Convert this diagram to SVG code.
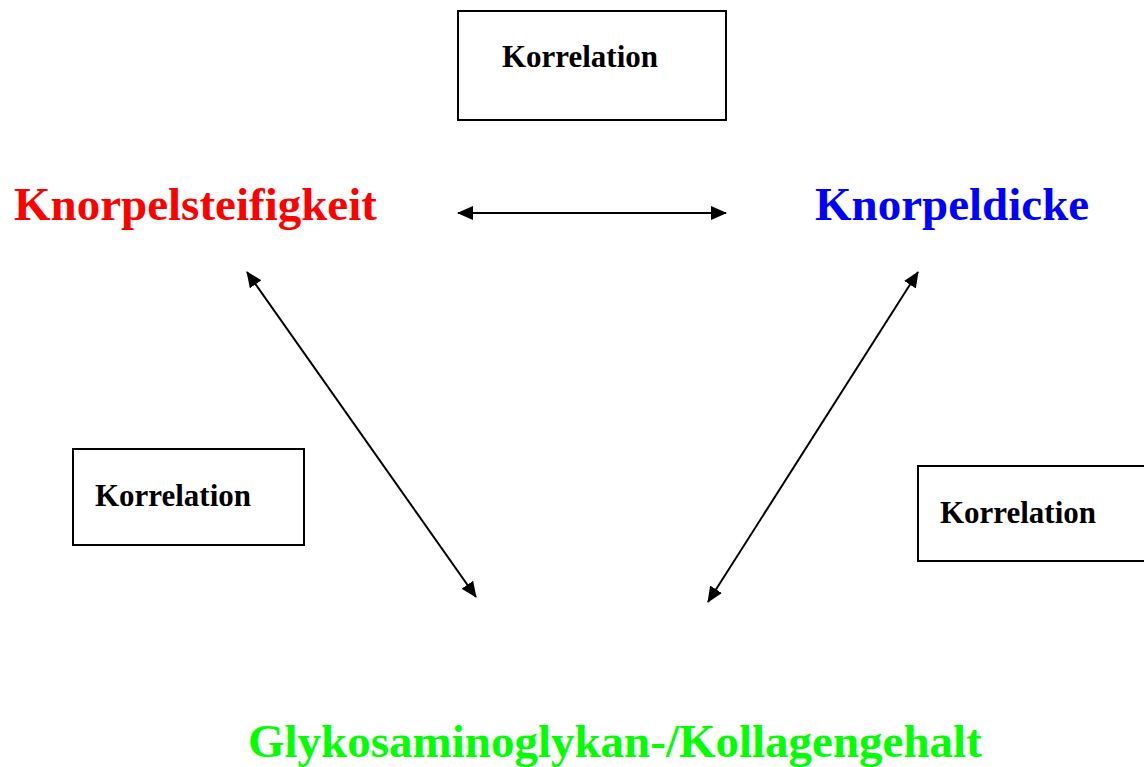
<svg xmlns="http://www.w3.org/2000/svg" width="1144" height="767" viewBox="0 0 1144 767">
<style>
.box{fill:#fff;stroke:#000;stroke-width:2}
.lbl{font-family:"Liberation Serif",serif;font-weight:bold;font-size:31px;fill:#000}
.big{font-family:"Liberation Serif",serif;font-weight:bold;font-size:47px}
.con{stroke:#000;stroke-width:2;fill:none;marker-start:url(#ah);marker-end:url(#ah)}
</style>
<defs>
<marker id="ah" markerUnits="userSpaceOnUse" viewBox="0 0 16 14" refX="15" refY="7" markerWidth="16" markerHeight="14" orient="auto-start-reverse">
<path d="M0,0 L16,7 L0,14 z" fill="#000"/>
</marker>
</defs>
<g id="box-top"><rect class="box" x="458" y="11" width="268" height="109"/><text class="lbl" x="502" y="67" textLength="156">Korrelation</text></g>
<g id="box-left"><rect class="box" x="73" y="449" width="231" height="96"/><text class="lbl" x="95" y="506" textLength="156">Korrelation</text></g>
<g id="box-right"><rect class="box" x="918" y="466" width="240" height="95"/><text class="lbl" x="940" y="523" textLength="156">Korrelation</text></g>
<g id="stiffness"><text class="big" x="14" y="220" fill="#ff0000">Knorpelsteifigkeit</text></g>
<g id="thickness"><text class="big" x="815" y="220" fill="#0000ff">Knorpeldicke</text></g>
<g id="content"><text class="big" x="248" y="757" fill="#00ff00">Glykosaminoglykan-/Kollagengehalt</text></g>
<g id="connectors">
<line class="con" x1="458" y1="213" x2="726" y2="213"/>
<line class="con" x1="247" y1="272" x2="476" y2="597"/>
<line class="con" x1="918" y1="272" x2="708" y2="602"/>
</g>
</svg>
